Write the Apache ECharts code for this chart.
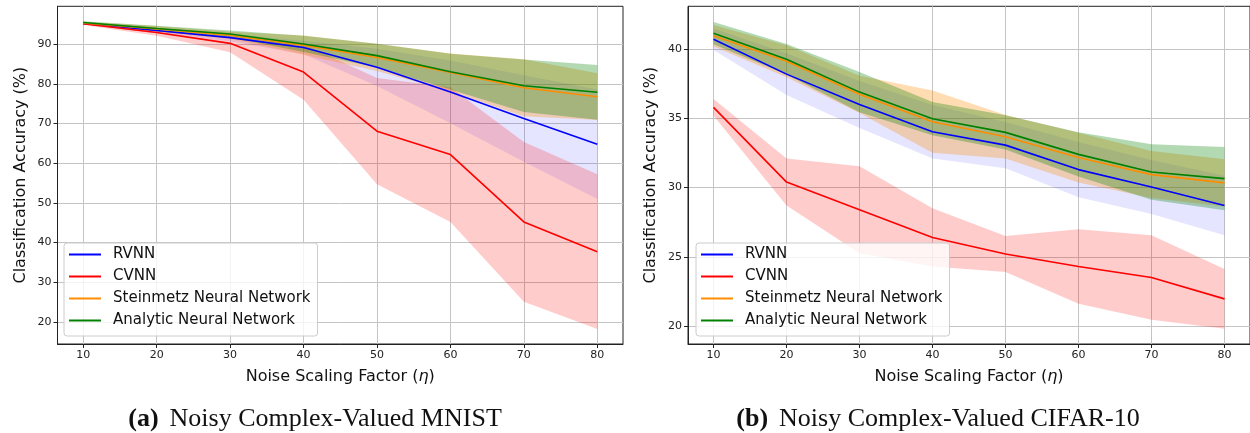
<!DOCTYPE html>
<html><head><meta charset="utf-8">
<script src="https://cdn.jsdelivr.net/npm/echarts@6/dist/echarts.min.js"></script>
<style>html,body{margin:0;padding:0;background:#fff}#c{width:1250px;height:433px}</style>
</head><body><div id="c"></div>
<script>
// ---- data ----
const noiseFactors = [10, 20, 30, 40, 50, 60, 70, 80];
const modelNames = ['RVNN', 'CVNN', 'Steinmetz Neural Network', 'Analytic Neural Network'];

// (a) Noisy Complex-Valued MNIST : mean and std (%)
const mnistRvnnMean = [95.3, 93.5, 91.7, 89.2, 84.2, 78.0, 71.3, 64.8];
const mnistRvnnStd  = [0.3, 0.7, 0.9, 1.7, 4.7, 7.9, 10.9, 13.8];
const mnistCvnnMean = [95.2, 93.0, 90.25, 83.0, 68.1, 62.2, 45.2, 37.7];
const mnistCvnnStd  = [0.3, 0.8, 2.25, 7.0, 13.4, 17.0, 20.15, 19.5];
const mnistSnnMean  = [95.4, 93.9, 92.3, 89.8, 86.7, 82.9, 79.05, 76.8];
const mnistSnnStd   = [0.3, 0.7, 0.9, 2.45, 3.45, 4.8, 7.2, 5.9];
const mnistAnnMean  = [95.5, 94.0, 92.6, 90.1, 87.15, 83.1, 79.55, 77.9];
const mnistAnnStd   = [0.3, 0.7, 0.9, 2.05, 3.0, 4.5, 6.6, 6.9];

// (b) Noisy Complex-Valued CIFAR-10 : mean and std (%)
const cifarRvnnMean = [40.72, 38.2, 36.0, 34.03, 33.07, 31.3, 30.05, 28.7];
const cifarRvnnStd  = [0.77, 1.5, 1.7, 1.93, 1.67, 2.0, 1.95, 2.15];
const cifarCvnnMean = [35.8, 30.4, 28.4, 26.4, 25.2, 24.3, 23.5, 21.96];
const cifarCvnnStd  = [0.6, 1.7, 3.15, 2.1, 1.3, 2.7, 3.05, 2.15];
const cifarSnnMean  = [40.97, 39.13, 36.74, 34.76, 33.67, 32.17, 30.94, 30.34];
const cifarSnnStd   = [0.77, 1.15, 1.35, 2.25, 1.57, 1.8, 1.7, 1.7];
const cifarAnnMean  = [41.16, 39.28, 36.9, 34.98, 33.99, 32.4, 31.13, 30.65];
const cifarAnnStd   = [0.8, 1.1, 1.45, 1.2, 1.23, 1.6, 2.0, 2.28];

// tick labels
const xTicks = [10, 20, 30, 40, 50, 60, 70, 80];
const mnistYTicks = [20, 30, 40, 50, 60, 70, 80, 90];
const cifarYTicks = [20, 25, 30, 35, 40];

// ---- styling ----
const lineColors = ['#0000ff', '#ff0000', '#ff8c00', '#008000'];
const bandColors = ['rgba(0,0,255,0.1)', 'rgba(255,0,0,0.2)', 'rgba(255,140,0,0.3)', 'rgba(0,128,0,0.3)'];
const FONT = '"DejaVu Sans", sans-serif';
const SERIF = '"Liberation Serif", serif';

const chart = echarts.init(document.getElementById('c'), null, {renderer: 'canvas'});

function bandSeries(name, gi, mean, std, color) {
  const data = noiseFactors.map((x, i) => [x, mean[i] - std[i], mean[i] + std[i]]);
  return {
    type: 'custom', name: '_band_' + name + gi, xAxisIndex: gi, yAxisIndex: gi, z: 1, silent: true,
    data: data, encode: {x: 0, y: [1, 2]},
    renderItem: function (params, api) {
      if (params.dataIndex !== 0) return null;
      const up = [], lo = [];
      for (let i = 0; i < data.length; i++) {
        up.push(api.coord([data[i][0], data[i][2]]));
        lo.push(api.coord([data[i][0], data[i][1]]));
      }
      return {type: 'polygon', shape: {points: up.concat(lo.reverse())}, style: {fill: color, stroke: null}};
    }
  };
}
function lineSeries(name, gi, mean, color) {
  return {
    type: 'line', name: name, xAxisIndex: gi, yAxisIndex: gi, z: 3,
    data: noiseFactors.map((x, i) => [x, mean[i]]),
    showSymbol: false, symbol: 'none', color: color,
    lineStyle: {color: color, width: 1.6}
  };
}

const groups = [
  [[mnistRvnnMean, mnistRvnnStd], [mnistCvnnMean, mnistCvnnStd], [mnistSnnMean, mnistSnnStd], [mnistAnnMean, mnistAnnStd]],
  [[cifarRvnnMean, cifarRvnnStd], [cifarCvnnMean, cifarCvnnStd], [cifarSnnMean, cifarSnnStd], [cifarAnnMean, cifarAnnStd]]
];
const series = [];
groups.forEach((g, gi) => {
  g.forEach((d, k) => series.push(bandSeries(modelNames[k], gi, d[0], d[1], bandColors[k])));
});
groups.forEach((g, gi) => {
  g.forEach((d, k) => series.push(lineSeries(modelNames[k], gi, d[0], lineColors[k])));
});

function xAxis(gi) {
  return {
    type: 'value', gridIndex: gi, min: 6.5, max: 83.5,
    name: '{t|Noise Scaling Factor (}{i|η}{t|)}', nameLocation: 'middle', nameGap: 25,
    nameTextStyle: {rich: {t: {fontFamily: FONT, fontSize: 16, color: '#111'}, i: {fontFamily: FONT, fontSize: 16, fontStyle: 'italic', color: '#111'}}},
    axisLine: {show: true, onZero: false, lineStyle: {color: '#222', width: 1}},
    axisTick: {show: true, length: 4, inside: false, customValues: xTicks, lineStyle: {color: '#222'}},
    axisLabel: {customValues: xTicks, fontFamily: FONT, fontSize: 11, color: '#222', margin: 6},
    splitLine: {show: true, customValues: xTicks, lineStyle: {color: '#c4c4c4', width: 1}}
  };
}
function yAxis(gi, min, max, ticks) {
  return {
    type: 'value', gridIndex: gi, min: min, max: max,
    name: 'Classification Accuracy (%)', nameLocation: 'middle', nameGap: 29,
    nameTextStyle: {fontFamily: FONT, fontSize: 16, color: '#111'},
    axisLine: {show: true, onZero: false, lineStyle: {color: '#222', width: 1}},
    axisTick: {show: true, length: 4, inside: false, customValues: ticks, lineStyle: {color: '#222'}},
    axisLabel: {customValues: ticks, fontFamily: FONT, fontSize: 11, color: '#222', margin: 6},
    splitLine: {show: true, customValues: ticks, lineStyle: {color: '#c4c4c4', width: 1}}
  };
}
function legend(left, top) {
  return {
    data: modelNames, orient: 'vertical', left: left, top: top,
    icon: 'rect', itemWidth: 32, itemHeight: 2, itemGap: 7,
    padding: [4, 7, 8, 5],
    backgroundColor: 'rgba(255,255,255,0.8)', borderColor: '#cccccc', borderWidth: 1, borderRadius: 3,
    textStyle: {fontFamily: FONT, fontSize: 15, color: '#111', padding: [0, 0, 0, 7]},
    selectedMode: false
  };
}
function caption(x, tag, text) {
  return {type: 'text', x: x, y: 419, style: {text: '{b|' + tag + '}{s| }{n|' + text + '}', align: 'center', verticalAlign: 'middle',
    rich: {b: {fontFamily: SERIF, fontSize: 26, fontWeight: 'bold', fill: '#111'},
           s: {fontFamily: SERIF, fontSize: 26, width: 11},
           n: {fontFamily: SERIF, fontSize: 26, fill: '#111'}}}};
}

chart.setOption({
  animation: false,
  backgroundColor: '#ffffff',
  grid: [
    {left: 57.5, top: 6.3, width: 565.5, height: 337.7, show: true, borderColor: '#222', borderWidth: 1, backgroundColor: 'transparent'},
    {left: 688, top: 6.3, width: 565.5, height: 337.7, show: true, borderColor: '#222', borderWidth: 1, backgroundColor: 'transparent'}
  ],
  xAxis: [xAxis(0), xAxis(1)],
  yAxis: [yAxis(0, 14.4, 99.6, mnistYTicks), yAxis(1, 18.7, 43.1, cifarYTicks)],
  legend: [legend(64, 243), legend(696, 243)],
  series: series,
  graphic: [
    caption(315, '(a)', 'Noisy Complex-Valued MNIST'),
    caption(938, '(b)', 'Noisy Complex-Valued CIFAR-10')
  ]
});
</script>
</body></html>
